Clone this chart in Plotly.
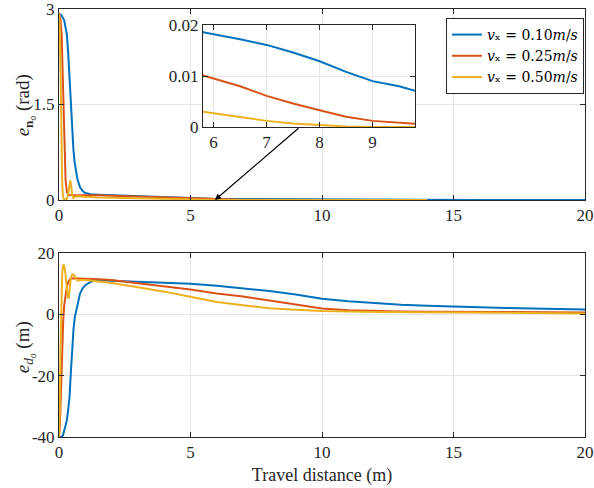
import plotly.graph_objects as go

# --- data ---
names = ["<i>v</i>ₓ = 0.10<i>m</i>/<i>s</i>",
         "<i>v</i>ₓ = 0.25<i>m</i>/<i>s</i>",
         "<i>v</i>ₓ = 0.50<i>m</i>/<i>s</i>"]
colors = ["#0072BD", "#D95319", "#EDB120"]

# heading error e_n (rad)
xn_blue = [0, 0.1, 0.2, 0.3, 0.35, 0.4, 0.45, 0.5, 0.55, 0.6, 0.7, 0.8, 0.9, 1.0, 1.2, 1.5,
           2, 3, 4, 5, 5.8, 6.5, 7, 7.5, 8, 8.5, 9, 9.5, 9.8, 11, 12, 14, 16, 18, 20]
en_blue = [2.93, 2.90, 2.82, 2.6, 2.3, 1.9, 1.5, 1.05, 0.78, 0.58, 0.33, 0.2, 0.14, 0.11, 0.09, 0.083,
           0.075, 0.06, 0.045, 0.03, 0.0186, 0.0172, 0.0161, 0.0146, 0.0129, 0.0108, 0.0090, 0.0080,
           0.0071, 0.005, 0.004, 0.003, 0.002, 0.0015, 0.001]

xn_red = [0, 0.05, 0.1, 0.16, 0.2, 0.25, 0.3, 0.35, 0.4, 0.5, 0.7, 1.0, 1.5, 2, 3, 4, 5,
          5.8, 6.5, 7, 7.5, 8, 8.5, 9, 9.8, 10]
en_red = [2.93, 2.85, 2.6, 1.5, 0.8, 0.31, 0.13, 0.085, 0.08, 0.08, 0.08, 0.078, 0.074, 0.068,
          0.055, 0.04, 0.026, 0.0101, 0.0080, 0.0061, 0.0046, 0.0033, 0.0020, 0.0012, 0.0006, 0.0005]

xn_yel = [0, 0.03, 0.06, 0.09, 0.12, 0.15, 0.2, 0.25, 0.3, 0.35, 0.4, 0.43, 0.47, 0.5, 0.55,
          0.6, 0.7, 0.8, 1.0, 1.5, 2, 3, 4, 5, 5.8, 6.5, 7, 7.5, 8, 8.5, 9, 10, 12, 14]
en_yel = [2.93, 2.7, 2.0, 1.0, 0.3, 0.05, 0.0, 0.01, 0.02, 0.1, 0.28, 0.31, 0.2, 0.08, 0.03,
          0.05, 0.06, 0.055, 0.05, 0.04, 0.035, 0.025, 0.018, 0.01, 0.0030, 0.0019, 0.0012,
          0.0007, 0.0004, 0.0001, 0.0, 0.0, 0.0, 0.0]

# distance error e_d (m)
xd_blue = [0, 0.1, 0.15, 0.2, 0.25, 0.3, 0.35, 0.4, 0.45, 0.5, 0.55, 0.6, 0.7, 0.8, 0.9, 1.0,
           1.2, 1.4, 1.7, 2, 3, 4, 5, 6, 7, 8, 9, 10, 11, 12, 13, 14, 15, 16, 17, 18, 19, 20]
ed_blue = [-40, -40, -39.5, -38, -36.5, -34.5, -31, -27, -19, -10, -5, -1, 3.5, 6.8, 8.5, 9.5,
           10.6, 11.0, 11.0, 10.9, 10.6, 10.3, 10.0, 9.3, 8.5, 7.6, 6.5, 5.1, 4.3, 3.6, 3.1,
           2.8, 2.5, 2.3, 2.1, 1.9, 1.75, 1.6]

xd_red = [0, 0.02, 0.05, 0.08, 0.1, 0.13, 0.16, 0.2, 0.25, 0.3, 0.35, 0.4, 0.5, 0.6, 0.8, 1.0,
          1.5, 2, 3, 4, 5, 6, 7, 8, 9, 10, 11, 12, 13, 14, 15, 17, 20]
ed_red = [-40, -38, -32, -24, -18, -8, -2, 3, 7, 9, 10.5, 11.3, 11.8, 11.8, 11.7, 11.6,
          11.4, 11.2, 10.1, 9.2, 8.1, 6.8, 5.8, 4.5, 3.2, 1.9, 1.3, 1.0, 0.9, 0.85, 0.85, 0.75, 0.6]

xd_yel = [0, 0.03, 0.06, 0.09, 0.12, 0.15, 0.18, 0.22, 0.26, 0.3, 0.34, 0.37, 0.4, 0.45, 0.5,
          0.56, 0.62, 0.7, 0.8, 0.9, 1.0, 1.5, 2, 3, 4, 5, 6, 7, 8, 9, 10, 12, 15, 20]
ed_yel = [-40, -30, -10, 5, 13, 15.8, 16, 15, 12, 8, 5.5, 5.2, 8, 12, 13, 13, 12, 11, 11.2,
          11.3, 11.2, 10.7, 10.2, 8.8, 7.4, 5.7, 4.0, 3.0, 2.0, 1.5, 1.1, 0.8, 0.6, 0.3]

top_series = [(xn_blue, en_blue), (xn_red, en_red), (xn_yel, en_yel)]
bot_series = [(xd_blue, ed_blue), (xd_red, ed_red), (xd_yel, ed_yel)]

FONT = "Liberation Serif"
AX = "#262626"
GRID = "#E6E6E6"

fig = go.Figure()

for (xs, ys), name, c in zip(top_series, names, colors):
    fig.add_trace(go.Scatter(x=xs, y=ys, name=name, mode="lines",
                             line=dict(color=c, width=2), xaxis="x", yaxis="y"))
for (xs, ys), c in zip(bot_series, colors):
    fig.add_trace(go.Scatter(x=xs, y=ys, mode="lines", showlegend=False,
                             line=dict(color=c, width=2), xaxis="x2", yaxis="y2"))
# zoomed inset of the heading error
for (xs, ys), c in zip(top_series, colors):
    fig.add_trace(go.Scatter(x=xs, y=ys, mode="lines", showlegend=False,
                             line=dict(color=c, width=2), xaxis="x3", yaxis="y3"))

axis_style = dict(showline=True, linecolor=AX, linewidth=1, mirror="ticks",
                  ticks="inside", ticklen=5, tickcolor=AX, showgrid=True,
                  gridcolor=GRID, zeroline=False, automargin=False,
                  ticklabeloverflow="allow", tickfont=dict(size=17, color=AX))

fig.update_layout(
    width=594, height=488,
    margin=dict(l=59, r=9, t=9, b=51),
    paper_bgcolor="white", plot_bgcolor="white",
    font=dict(family=FONT, size=17, color=AX),
    xaxis=dict(domain=[0, 1], range=[0, 20], tickvals=[0, 5, 10, 15, 20],
               anchor="y", **axis_style),
    yaxis=dict(domain=[0.5537, 1], range=[0, 3], tickvals=[0, 1.5, 3],
               anchor="x", **axis_style),
    xaxis2=dict(domain=[0, 1], range=[0, 20], tickvals=[0, 5, 10, 15, 20],
                anchor="y2", title=dict(text="Travel distance (m)", standoff=6,
                                        font=dict(size=18)), **axis_style),
    yaxis2=dict(domain=[0, 0.4299], range=[-40, 20], tickvals=[-40, -20, 0, 20],
                ticktext=["-40", "-20", "0", "20"], anchor="x2", **axis_style),
    xaxis3=dict(domain=[0.2738, 0.6768], range=[5.8, 9.8], tickvals=[6, 7, 8, 9],
                anchor="y3", **axis_style),
    yaxis3=dict(domain=[0.7243, 0.9626], range=[0, 0.02], tickvals=[0, 0.01, 0.02],
                anchor="x3", **axis_style),
    legend=dict(x=0.998, y=0.979, xanchor="right", yanchor="top",
                bgcolor="white", bordercolor=AX, borderwidth=1,
                font=dict(family="DejaVu Serif", size=14, color="black"),
                tracegroupgap=0, itemwidth=30),
    annotations=[
        dict(x=5.93, y=0, xref="x", yref="y", ax=85, ay=-73,
             showarrow=True, arrowhead=2, arrowsize=1, arrowwidth=1.2,
             arrowcolor="black", text=""),
        dict(x=-0.0646, y=0.775, xref="paper", yref="paper", textangle=-90,
             showarrow=False, xanchor="center", yanchor="middle",
             text="<i>e</i><sub><b>n</b><sub><i>o</i></sub></sub> (rad)",
             font=dict(size=19, color=AX)),
        dict(x=-0.0646, y=0.21, xref="paper", yref="paper", textangle=-90,
             showarrow=False, xanchor="center", yanchor="middle",
             text="<i>e</i><sub><i>d</i><sub><i>o</i></sub></sub> (m)",
             font=dict(size=19, color=AX)),
    ],
)

# the page body has a default 8px margin; drop it so the figure fills the window
fig.write_html("out.html", config={"displayModeBar": False},
               post_script="document.body.style.margin='0';")
